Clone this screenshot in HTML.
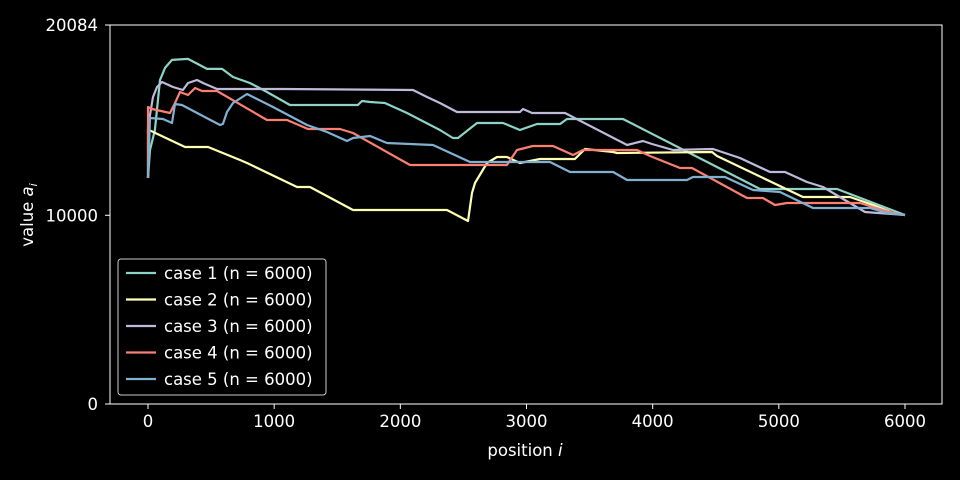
<!DOCTYPE html>
<html><head><meta charset="utf-8"><style>
html,body{margin:0;padding:0;background:#000;}
svg{display:block;font-family:"DejaVu Sans","Liberation Sans",sans-serif;}
</style></head><body>
<svg id="chart" width="960" height="480" viewBox="0 0 960 480">
<rect x="0" y="0" width="960" height="480" fill="#000"/>
<g id="series"></g>
<rect x="110" y="25" width="832" height="379" fill="none" stroke="#fff" stroke-width="1"/>
<g id="axes"></g>
<text x="525" y="456" fill="#fff" font-size="16.5" text-anchor="middle">position <tspan font-style="italic">i</tspan></text>
<text transform="translate(33,215) rotate(-90)" fill="#fff" font-size="16.5" text-anchor="middle">value <tspan font-style="italic">a</tspan><tspan font-style="italic" font-size="11" dy="4">i</tspan></text>
<g id="legend"></g>
</svg>
<script>
const xTicks = [0, 1000, 2000, 3000, 4000, 5000, 6000];
const yTicks = [0, 10000, 20084];
const seriesNames = ["case 1 (n = 6000)","case 2 (n = 6000)","case 3 (n = 6000)","case 4 (n = 6000)","case 5 (n = 6000)"];
const case1X = [0,16,55,95,135,190,317,468,587,674,808,943,1125,1664,1696,1760,1878,2053,2314,2417,2457,2608,2814,2948,3083,3266,3321,3765,4851,5461,6000];
const case1Y = [11978,13462,14522,17172,17808,18232,18285,17755,17755,17331,17013,16536,15847,15847,16059,16006,15953,15423,14522,14098,14098,14893,14893,14522,14840,14840,15105,15105,11395,11395,10017];
const case2X = [0,8,293,476,729,785,1181,1284,1625,2370,2536,2568,2592,2687,2766,2845,2948,3107,3384,3464,3686,3717,4470,4510,5191,5564,5746,5905,6000];
const case2Y = [11978,14522,13621,13621,12932,12773,11501,11501,10282,10282,9699,11183,11713,12773,13091,13091,12773,12985,12985,13515,13356,13303,13356,13144,10971,10971,10547,10123,10017];
const case3X = [0,0,40,71,111,198,277,317,388,436,547,1070,2100,2211,2314,2449,2948,2972,3044,3305,3797,3923,3995,4161,4478,4692,4930,5049,5223,5350,5683,6000];
const case3Y = [11978,14681,16271,16801,17066,16801,16642,17013,17172,17013,16695,16695,16642,16271,15953,15476,15476,15635,15423,15423,13727,13939,13780,13462,13515,13038,12296,12296,11766,11501,10176,10017];
const case4X = [0,0,32,174,214,254,317,373,428,547,943,1102,1268,1522,1625,2077,2845,2925,3051,3210,3369,3448,3876,3979,4217,4312,4748,4874,4970,5065,5643,5746,5905,6000];
const case4Y = [11978,15741,15635,15423,15953,16536,16377,16748,16589,16589,15052,15052,14575,14575,14363,12667,12667,13462,13674,13674,13197,13462,13462,13144,12508,12508,10918,10918,10547,10653,10653,10441,10123,10017];
const case5X = [0,16,119,190,214,269,571,594,626,674,785,991,1260,1419,1577,1625,1760,1894,2259,2552,3186,3345,3686,3797,4272,4320,4573,4795,5009,5271,5723,5857,6000];
const case5Y = [11978,15158,15105,14893,15900,15847,14787,14840,15476,15953,16430,15741,14787,14416,13939,14098,14204,13833,13727,12826,12826,12296,12296,11872,11872,12031,12031,11342,11236,10388,10388,10123,10017];
const colors = ["#8dd3c7","#ffffb3","#bebada","#fb8072","#80b1d3"];

const NS = "http://www.w3.org/2000/svg";
function xs(v){ return 148 + v * (757/6000); }
function ys(v){ return 404 - v * (379/20084); }
function mk(tag, attrs, parent){ const e=document.createElementNS(NS,tag); for(const k in attrs) e.setAttribute(k,attrs[k]); parent.appendChild(e); return e; }

const axes = document.getElementById("axes");
xTicks.forEach(t=>{
  const l = mk("line",{x1:xs(t),x2:xs(t),y1:404,y2:409,stroke:"#fff","stroke-width":1},axes);
  
  
  const tx = mk("text",{x:xs(t),y:427,fill:"#fff","font-size":16.5,"text-anchor":"middle"},axes);
  tx.textContent = t;
  
  
});
yTicks.forEach(t=>{
  const l = mk("line",{x1:105,x2:110,y1:ys(t),y2:ys(t),stroke:"#fff","stroke-width":1},axes);
  
  
  const tx = mk("text",{x:98,y:ys(t)+6,fill:"#fff","font-size":16.5,"text-anchor":"end"},axes);
  tx.textContent = t;
  
  
});

const allX = [case1X,case2X,case3X,case4X,case5X];
const allY = [case1Y,case2Y,case3Y,case4Y,case5Y];
const sg = document.getElementById("series");
allX.forEach((X,i)=>{
  const Y = allY[i];
  const pts = X.map((x,j)=>xs(x).toFixed(1)+","+ys(Y[j]).toFixed(1)).join(" ");
  const p = mk("polyline",{points:pts,fill:"none",stroke:colors[i],"stroke-width":2.2,"stroke-linejoin":"round"},sg);
  
  
});

const lg = document.getElementById("legend");
const box = mk("rect",{x:118,y:259,width:208,height:136,rx:3,fill:"#000","fill-opacity":0.8,stroke:"#ccc","stroke-width":1},lg);


seriesNames.forEach((n,i)=>{
  const y = 273 + i*26.5;
  const l = mk("line",{x1:126,x2:156,y1:y,y2:y,stroke:colors[i],"stroke-width":2.2},lg);
  
  
  const t = mk("text",{x:164,y:y+6,fill:"#fff","font-size":16.5},lg);
  t.textContent = n;
  
  
});
</script>
</body></html>
